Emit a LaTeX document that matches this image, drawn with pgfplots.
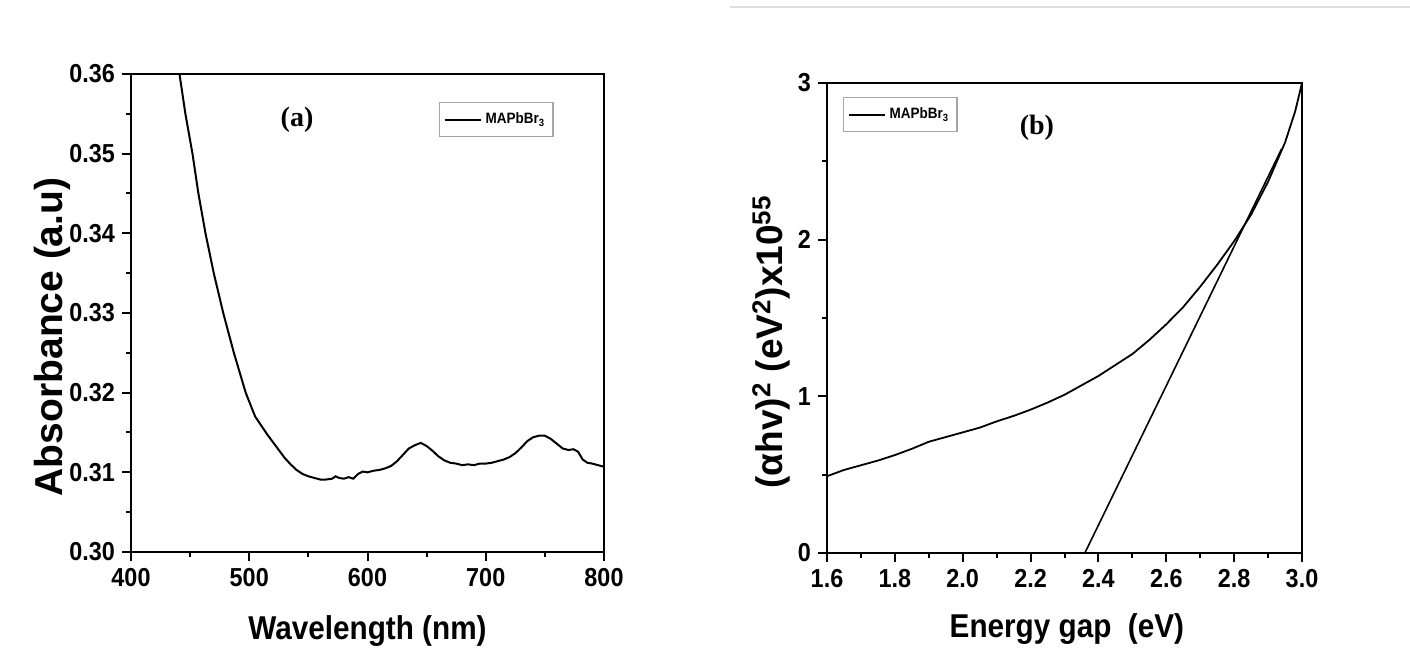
\documentclass[border=0pt]{standalone}
\usepackage{fontspec}
\setmainfont{Liberation Sans}
\newfontfamily\narrowsf[FakeStretch=0.9]{Liberation Sans}
\newfontfamily\timesb{Liberation Serif}
\usepackage{pgfplots}
\pgfplotsset{compat=1.18}

\pgfplotsset{
  panel/.style={
    scale only axis,
    anchor=south west,
    axis line style={line width=1pt},
    every tick/.style={black, line width=1pt},
    major tick length=4.5pt,
    minor tick length=2.5pt,
    tick align=outside,
    xtick pos=left,
    ytick pos=left,
    minor x tick num=1,
    minor y tick num=1,
    /pgf/number format/assume math mode=true,
    tick label style={font=\narrowsf\bfseries\fontsize{13}{15}\selectfont},
    xlabel style={font=\narrowsf\bfseries\fontsize{16.5}{20}\selectfont, anchor=base},
    legend cell align=left,
  },
}

\begin{document}
\begin{tikzpicture}
\useasboundingbox (0pt,0pt) rectangle (705pt,329.5pt);
\draw[gray!25, line width=0.8pt] (365pt,326pt) -- (705pt,326pt);

% (a) absorbance
\begin{axis}[panel,
    at={(65.5pt,53.5pt)},
    width=236.5pt, height=239pt,
    xmin=400, xmax=800, ymin=0.30, ymax=0.36,
    xtick={400,500,600,700,800},
    ytick={0.30,0.31,0.32,0.33,0.34,0.35,0.36},
    scaled y ticks=false,
    yticklabel style={/pgf/number format/.cd, fixed, fixed zerofill, precision=2},
    xlabel={Wavelength (nm)},
    ylabel={Absorbance (a.u)},
    xlabel style={at={(axis description cs:0.5,-0.184)}},
    ylabel style={at={(axis description cs:-0.144,0.45)}, anchor=base,
      font=\bfseries\fontsize{19.5}{22}\selectfont},
    legend style={at={(rel axis cs:0.651,0.941)}, anchor=north west,
      draw=gray!70, line width=0.6pt, inner xsep=2pt, inner ysep=3pt,
      font=\narrowsf\bfseries\fontsize{7.5}{9}\selectfont},
    legend image code/.code={\draw[#1] (0pt,0pt) -- (18pt,0pt);},
  ]
  \addplot[black, line width=1pt] coordinates {
    (441,0.3600) (446,0.3550) (452,0.3500) (457,0.3450) (463,0.3400)
    (470,0.3350) (478,0.3300) (487,0.3250) (497,0.3200) (505,0.3170)
    (510,0.3159) (515,0.3148) (520,0.3138) (525,0.3128) (530,0.3118)
    (535,0.3110) (540,0.3103) (545,0.3098) (550,0.3095) (555,0.3093)
    (560,0.3091) (565,0.3091) (570,0.3092) (573,0.3095) (576,0.3093)
    (580,0.3092) (584,0.3094) (588,0.3092) (592,0.3098) (596,0.3101)
    (600,0.3100) (605,0.3102) (610,0.3103) (615,0.3105) (620,0.3108)
    (625,0.3114) (630,0.3122) (635,0.3130) (640,0.3134) (645,0.3137)
    (650,0.3133) (655,0.3127) (660,0.3120) (665,0.3115) (670,0.3112)
    (675,0.3111) (680,0.3109) (685,0.3110) (690,0.3109) (695,0.3111)
    (700,0.3111) (705,0.3112) (710,0.3114) (715,0.3116) (720,0.3119)
    (725,0.3124) (730,0.3131) (735,0.3139) (740,0.3144) (745,0.3146)
    (750,0.3146) (755,0.3142) (760,0.3136) (765,0.3130) (770,0.3128)
    (774,0.3129) (778,0.3126) (782,0.3116) (786,0.3112) (790,0.3111)
    (795,0.3109) (800,0.3107)
  };
  \addlegendentry{MAPbBr\textsubscript{3}}
  \node[font=\timesb\bfseries\fontsize{14}{16}\selectfont] at (rel axis cs:0.351,0.904) {(a)};
\end{axis}

% (b) Tauc plot
\begin{axis}[panel,
    at={(413.5pt,53pt)},
    width=237.5pt, height=235pt,
    xmin=1.6, xmax=3.0, ymin=0, ymax=3,
    xtick={1.6,1.8,2.0,2.2,2.4,2.6,2.8,3.0},
    ytick={0,1,2,3},
    xticklabel style={/pgf/number format/.cd, fixed, fixed zerofill, precision=1},
    xlabel={Energy gap\ \ (eV)},
    ylabel={(αhv)\textsuperscript{2} (eV\textsuperscript{2})x10\textsuperscript{55}},
    xlabel style={at={(axis description cs:0.505,-0.179)}},
    ylabel style={at={(axis description cs:-0.093,0.449)}, anchor=base,
      font=\bfseries\fontsize{18.5}{22}\selectfont},
    legend style={at={(rel axis cs:0.034,0.970)}, anchor=north west,
      draw=gray!70, line width=0.6pt, inner xsep=2pt, inner ysep=3pt,
      font=\narrowsf\bfseries\fontsize{7.5}{9}\selectfont},
    legend image code/.code={\draw[#1] (0pt,0pt) -- (18pt,0pt);},
  ]
  \addplot[black, line width=0.9pt] coordinates {
    (1.60,0.49) (1.65,0.53) (1.70,0.56) (1.75,0.59) (1.80,0.625)
    (1.85,0.665) (1.90,0.71) (1.95,0.74) (2.00,0.77) (2.05,0.80)
    (2.10,0.84) (2.15,0.875) (2.20,0.915) (2.25,0.96) (2.30,1.01)
    (2.35,1.07) (2.40,1.13) (2.45,1.20) (2.50,1.27) (2.55,1.36)
    (2.60,1.46) (2.65,1.57) (2.70,1.70) (2.75,1.84) (2.80,1.99)
    (2.85,2.16) (2.90,2.37) (2.95,2.62) (2.98,2.82) (3.00,3.00)
  };
  \addlegendentry{MAPbBr\textsubscript{3}}
  \addplot[black, line width=0.8pt, forget plot] coordinates {
    (2.36,0) (2.94,2.58)
  };
  \node[font=\timesb\bfseries\fontsize{14}{16}\selectfont] at (rel axis cs:0.442,0.904) {(b)};
\end{axis}
\end{tikzpicture}
\end{document}
